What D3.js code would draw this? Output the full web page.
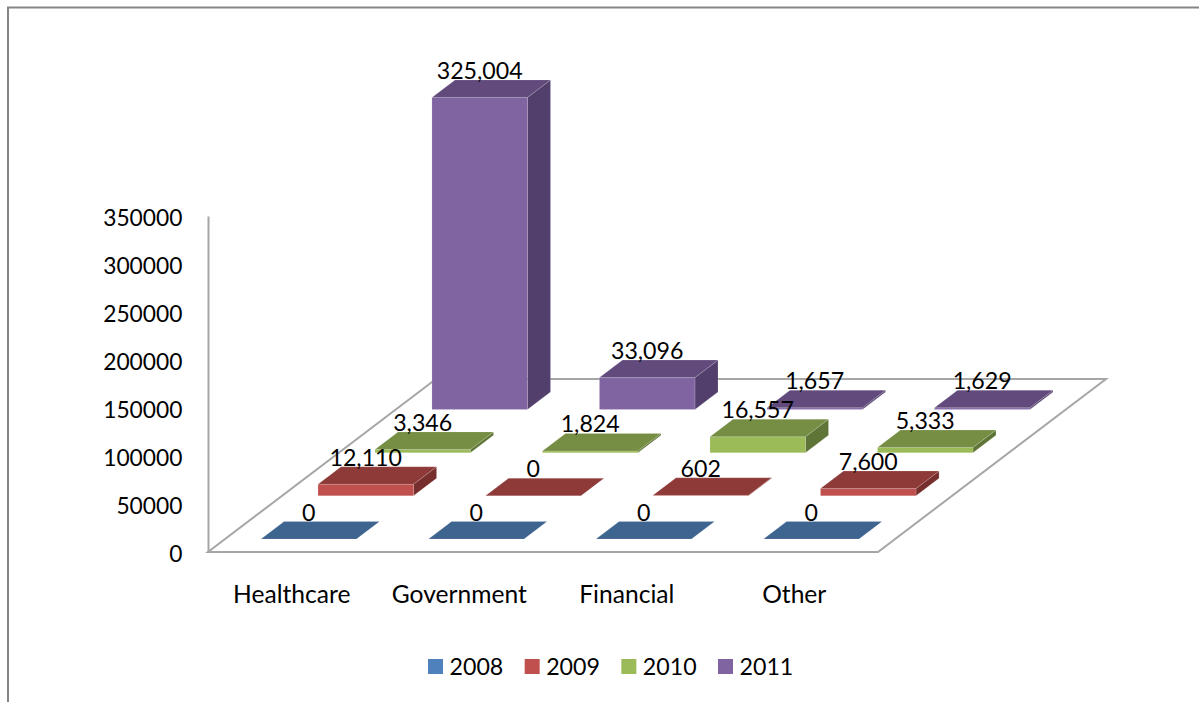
<!DOCTYPE html>
<html>
<head>
<meta charset="utf-8">
<script src="https://cdnjs.cloudflare.com/ajax/libs/d3/7.8.5/d3.min.js"></script>
<style>
html,body{margin:0;padding:0;background:#fff;overflow:hidden}
text{font-family:Lato,"Open Sans",sans-serif;font-size:23.2px;fill:#000}
</style>
</head>
<body>
<script>
const categories = ["Healthcare","Government","Financial","Other"];
const years = ["2008","2009","2010","2011"];
const values2008 = [0,0,0,0];
const values2009 = [12110,0,602,7600];
const values2010 = [3346,1824,16557,5333];
const values2011 = [325004,33096,1657,1629];
const allValues = [values2008,values2009,values2010,values2011];
const valueTicks = [0,50000,100000,150000,200000,250000,300000,350000];
const faceColors = ["#4F81BD","#C0504D","#9BBB59","#8064A2"];
const topColors = ["#3E6490","#8E3A38","#758E43","#624B7C"];
const sideColors = ["#345478","#772F2D","#5F7537","#533F6B"];

const W = 1199, H = 702;
const svg = d3.select("body").append("svg").attr("width",W).attr("height",H);

const floorLeft = 208, floorRight = 878, floorY = 552, floorDepth = 173, skew = 228/173;

const x = d3.scaleBand().domain(categories).range([floorLeft,floorRight]).paddingInner(72/167.5).paddingOuter(36/167.5);
const xCat = d3.scaleBand().domain(categories).range([floorLeft,floorRight]);
const y = d3.scaleLinear().domain([0,350000]).range([floorY,216]);
const depth = d3.scaleBand().domain(years).range([0,floorDepth]).paddingInner(25.75/43.25).paddingOuter(12.9/43.25);
const d0 = depth.bandwidth();

// page frame
svg.append("path").attr("d",`M8,${H} V7.5 H${W}`).attr("fill","none").attr("stroke","#868686").attr("stroke-width",2);

// floor and wall
const gridColor = "#A6A6A6";
const proj = (px,py,d)=>[px+d*skew, py-d];
svg.append("path")
  .attr("d",d3.line()([proj(floorLeft,floorY,floorDepth),proj(floorLeft,floorY,0),proj(floorRight,floorY,0),proj(floorRight,floorY,floorDepth)])+"Z")
  .attr("fill","#fff").attr("stroke",gridColor).attr("stroke-width",2);

// value axis
const axisY = svg.append("g").attr("transform",`translate(${floorLeft},0)`)
  .call(d3.axisLeft(y).tickValues(valueTicks).tickFormat(d3.format("d")).tickSize(0).tickPadding(25.5));
axisY.select(".domain").attr("stroke",gridColor).attr("stroke-width",2);
axisY.selectAll("text").attr("dy","0.42em").style("font-size","22.8px").style("font-family","Lato");

// category axis
const axisX = svg.append("g").attr("transform",`translate(0,${floorY})`)
  .call(d3.axisBottom(xCat).tickSize(0).tickPadding(34));
axisX.select(".domain").remove();
axisX.selectAll("text").style("font-size","24.6px").style("font-family","Lato");

// bars, back row first
const bars = svg.append("g");
const labels = [];
d3.range(years.length-1,-1,-1).forEach(s=>{
  const yr = years[s];
  const near = depth(yr), far = near+d0;
  categories.forEach((c,i)=>{
    const v = allValues[s][i];
    const l = x(c), r = l+x.bandwidth();
    const top = y(v), base = y(0);
    const pt = (px,py,d)=>proj(px,py,d);
    const poly = (pts,fill)=>bars.append("polygon")
      .attr("points",pts.map(p=>p.join(",")).join(" "))
      .attr("fill",fill).attr("stroke","rgba(255,255,255,0.14)").attr("stroke-width",1);
    if (v>0) {
      poly([pt(r,base,near),pt(r,base,far),pt(r,top,far),pt(r,top,near)],sideColors[s]);
      poly([pt(l,base,near),pt(r,base,near),pt(r,top,near),pt(l,top,near)],faceColors[s]);
    }
    poly([pt(l,top,near),pt(r,top,near),pt(r,top,far),pt(l,top,far)],topColors[s]);
    const a = pt((l+r)/2,top,near);
    labels.push({x:a[0],y:a[1]-d0-1,t:d3.format(",")(v)});
  });
});
svg.append("g").selectAll("text").data(labels).join("text")
  .attr("x",d=>d.x).attr("y",d=>d.y).attr("text-anchor","middle").text(d=>d.t);

// legend
const legendX = d3.scaleLinear().domain([0,3]).range([428,718]);
const lg = svg.append("g").selectAll("g").data(years).join("g")
  .attr("transform",(d,i)=>`translate(${legendX(i)},659)`);
lg.append("rect").attr("width",15).attr("height",15).attr("fill",(d,i)=>faceColors[i]);
lg.append("text").attr("x",21.5).attr("y",16).text(d=>d);
</script>
</body>
</html>
